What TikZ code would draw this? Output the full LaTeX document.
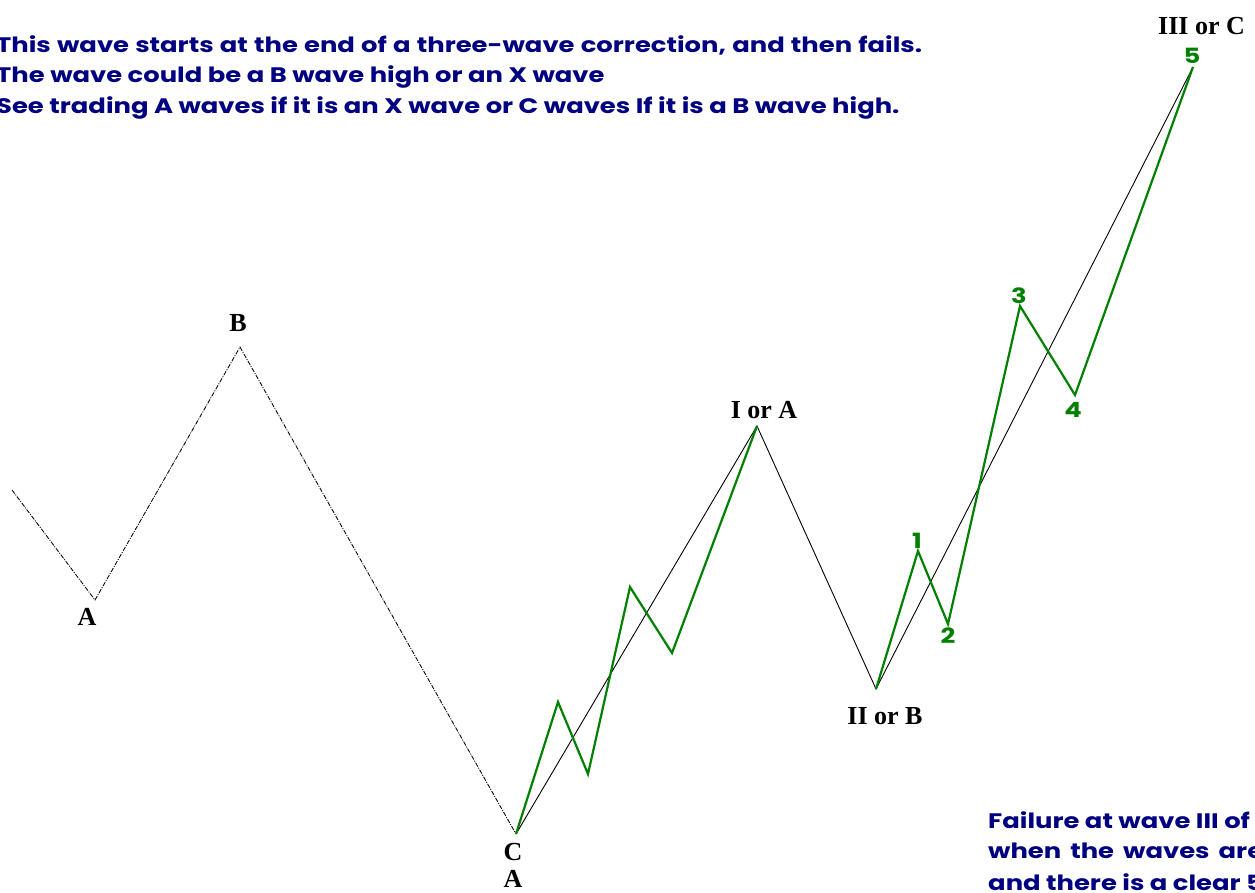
\documentclass[tikz,border=0pt]{standalone}
\usepackage{fontspec}
\newfontfamily\gothic{Poppins}[FakeStretch=1.23]
\newfontfamily\labelserif{Liberation Serif}
\definecolor{navy}{RGB}{0,0,128}
\definecolor{wgreen}{RGB}{0,128,0}
\tikzset{
  note/.style={anchor=west, inner sep=0pt, text=navy, font=\gothic\bfseries\fontsize{21}{25}\selectfont},
  wlabel/.style={inner sep=0pt, font=\labelserif\bfseries\fontsize{26}{30}\selectfont},
  glabel/.style={inner sep=0pt, text=wgreen, font=\gothic\bfseries\fontsize{21}{24}\selectfont},
  corr/.style={line width=0.85pt, dash pattern=on 4.5pt off 1.3pt on 1pt off 1.3pt},
  trend/.style={line width=0.9pt, black},
  impulse/.style={line width=2.2pt, wgreen, line join=miter},
}
\begin{document}
\begin{tikzpicture}[x=1pt,y=-1pt]
\useasboundingbox (0,0) rectangle (1255,892);
\clip (0,0) rectangle (1255,892);
\fill[white] (0,0) rectangle (1255,892);
% wave points
\coordinate (s) at (12,490);
\coordinate (pA) at (95,600);
\coordinate (pB) at (240,347);
\coordinate (pC) at (516,834);
\coordinate (pI) at (757,426);
\coordinate (pII) at (876,689);
\coordinate (p5) at (1193,67);
\coordinate (g1) at (558,702);
\coordinate (g2) at (588,774);
\coordinate (g3) at (630,587);
\coordinate (g4) at (672,653);
\coordinate (h1) at (918,551);
\coordinate (h2) at (948,624);
\coordinate (h3) at (1020,306);
\coordinate (h4) at (1075,395);
% correction
\draw[corr] (s) -- (pA) -- (pB) -- (pC);
% trend lines
\draw[trend] (pC) -- (pI) -- (pII) -- (p5);
% green impulses
\draw[impulse] (pC) -- (g1) -- (g2) -- (g3) -- (g4) -- (pI);
\draw[impulse] (pII) -- (h1) -- (h2) -- (h3) -- (h4) -- (p5);
% labels
\node[wlabel] (lB) at (238,323) {B};
\node[wlabel] (lA) at (87,617) {A};
\node[wlabel] (lC) at (513,852) {C};
\node[wlabel] (lA2) at (513,879) {A};
\node[wlabel] (lI) at (764,410) {I or A};
\node[wlabel] (lII) at (885,716) {II or B};
\node[wlabel, anchor=west] (lIII) at (1158,26) {III or C};
\node[glabel] (n1) at (917,541) {1};
\node[glabel] (n2) at (948,636) {2};
\node[glabel] (n3) at (1019,296) {3};
\node[glabel] (n4) at (1073,410) {4};
\node[glabel] (n5) at (1192,56) {5};
% notes
\node[note] (t1) at (-4,45) {\makebox[926pt][s]{This wave starts at the end of a three-wave correction, and then fails.}};
\node[note] (t2) at (-4,77) {The wave could be a B wave high or an X wave};
\node[note] (t3) at (-4,108) {See trading A waves if it is an X wave or C waves If it is a B wave high.};
\node[note] (b1) at (988,820) {Failure at wave III of};
\node[note] (b2) at (988,851) {\makebox[275pt][s]{when the waves are}};
\node[note] (b3) at (988,882) {and there is a clear 5};
\end{tikzpicture}
\end{document}
